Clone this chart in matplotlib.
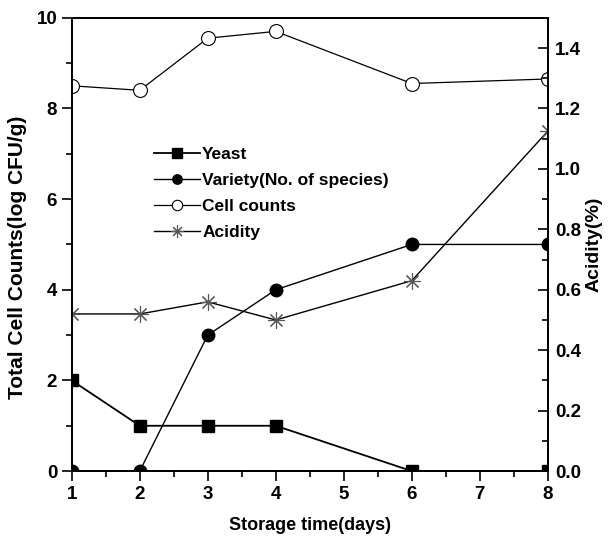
import matplotlib
matplotlib.use("Agg")
import matplotlib.pyplot as plt
from matplotlib.ticker import MultipleLocator

plt.rcParams['font.family'] = ['Liberation Sans', 'DejaVu Sans']
plt.rcParams['font.weight'] = 'bold'

days = [1, 2, 3, 4, 6, 8]
yeast = [2, 1, 1, 1, 0, 0]
variety = [0, 0, 3, 4, 5, 5]
cell_counts = [8.5, 8.4, 9.55, 9.7, 8.55, 8.65]
acidity = [0.52, 0.52, 0.56, 0.50, 0.63, 1.125]

fig = plt.figure(figsize=(6.08, 5.39), dpi=100)
ax = fig.add_axes([0.118, 0.126, 0.783, 0.841])
ax2 = ax.twinx()

l1, = ax.plot(days, yeast, 'k-', marker='s', ms=9, lw=1.3, label='Yeast')
l2, = ax.plot(days, variety, 'k-', marker='o', ms=9, lw=1.0, label='Variety(No. of species)')
l3, = ax.plot(days, cell_counts, 'k-', marker='o', ms=10, mfc='white', mew=0.8, lw=0.9,
              label='Cell counts')
l4, = ax2.plot(days, acidity, color='k', ls='-', marker=(8, 2, 0), ms=12, mec='#555555',
               mew=0.8, lw=1.0, label='Acidity')

ax.set_xlim(1, 8)
ax.set_ylim(0, 10)
ax2.set_ylim(0, 1.5)
ax.xaxis.set_major_locator(MultipleLocator(1))
ax.xaxis.set_minor_locator(MultipleLocator(0.5))
ax.yaxis.set_major_locator(MultipleLocator(2))
ax.yaxis.set_minor_locator(MultipleLocator(1))
ax2.set_yticks([0.0, 0.2, 0.4, 0.6, 0.8, 1.0, 1.2, 1.4])
ax2.set_yticklabels(['0.0', '0.2', '0.4', '0.6', '0.8', '1.0', '1.2', '1.4'])
ax2.yaxis.set_minor_locator(MultipleLocator(0.1))

# left and bottom ticks point out, right ticks point in
ax.tick_params(which='major', direction='out', length=7, width=1.2, labelsize=13.5)
ax.tick_params(which='minor', direction='out', length=4, width=1.2)
ax2.tick_params(which='major', direction='in', length=7, width=1.2, labelsize=13.5, pad=5)
ax2.tick_params(which='minor', direction='in', length=4, width=1.2)
for a in (ax, ax2):
    for s in a.spines.values():
        s.set_linewidth(1.3)

ax.set_xlabel('Storage time(days)', fontsize=13, fontweight='bold', labelpad=10)
ax.set_ylabel('Total Cell Counts(log CFU/g)', fontsize=15, fontweight='bold')
ax.yaxis.set_label_coords(-0.095, 0.472)
ax2.set_ylabel('Acidity(%)', fontsize=14, fontweight='bold')
ax2.yaxis.set_label_coords(1.08, 0.5)

ax.legend(handles=[l1, l2, l3, l4], loc='upper left', bbox_to_anchor=(0.139, 0.75),
          frameon=False, fontsize=12.5, handlelength=2.7, handletextpad=0.1,
          labelspacing=0.63, markerscale=0.75)

fig.savefig('out.png', dpi=100)
